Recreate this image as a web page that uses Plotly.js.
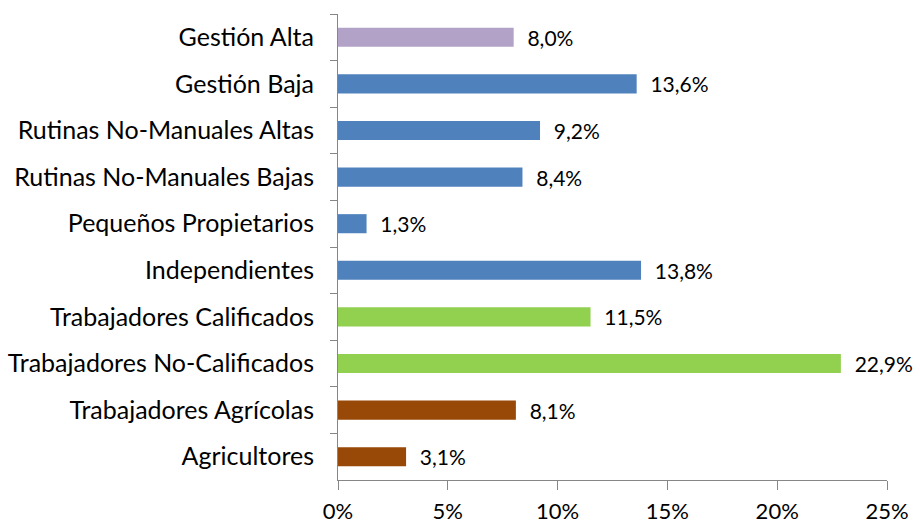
<!DOCTYPE html>
<html>
<head>
<meta charset="utf-8">
<script src="https://cdn.plot.ly/plotly-3.0.1.min.js"></script>
<style>html,body{margin:0;padding:0;background:#fff;}#chart{width:920px;height:525px;}</style>
</head>
<body>
<div id="chart"></div>
<script>
const categories = ["Gestión Alta","Gestión Baja","Rutinas No-Manuales Altas","Rutinas No-Manuales Bajas","Pequeños Propietarios","Independientes","Trabajadores Calificados","Trabajadores No-Calificados","Trabajadores Agrícolas","Agricultores"];
const values = [8.0, 13.6, 9.2, 8.4, 1.3, 13.8, 11.5, 22.9, 8.1, 3.1];
const barColors = ["#B3A2C7","#4F81BD","#4F81BD","#4F81BD","#4F81BD","#4F81BD","#92D050","#92D050","#984807","#984807"];
const xTicks = [0,5,10,15,20,25];

const font = "Lato, 'Open Sans', sans-serif";
const trace = {
  type: "bar",
  orientation: "h",
  y: categories,
  x: values,
  marker: {color: barColors},
  width: 0.41,
  text: values.map(v => v.toFixed(1).replace(".", ",") + "%"),
  texttemplate: "  %{text}",
  textposition: "outside",
  constraintext: "none",
  cliponaxis: false,
  textfont: {family: font, size: 21, color: "#000"},
  hoverinfo: "none"
};
const layout = {
  width: 920, height: 525,
  margin: {l: 338, r: 33, t: 14, b: 45},
  paper_bgcolor: "#fff", plot_bgcolor: "#fff",
  showlegend: false,
  xaxis: {
    range: [0, 25], tickvals: xTicks, ticktext: xTicks.map(t => t + "%"),
    showgrid: false, zeroline: false, showline: true, linecolor: "#868686", linewidth: 1,
    ticks: "outside", ticklen: 9, tickcolor: "#868686",
    ticklabelstandoff: 3,
    tickfont: {family: font, size: 22, color: "#000"}
  },
  yaxis: {
    type: "category", autorange: "reversed",
    showgrid: false, zeroline: false, showline: true, linecolor: "#868686", linewidth: 1,
    ticks: "outside", ticklen: 7, tickcolor: "#868686", tickson: "boundaries",
    ticklabelstandoff: 18,
    tickfont: {family: font, size: 25, color: "#000"}
  }
};
Plotly.newPlot("chart", [trace], layout, {staticPlot: true});
</script>
</body>
</html>
